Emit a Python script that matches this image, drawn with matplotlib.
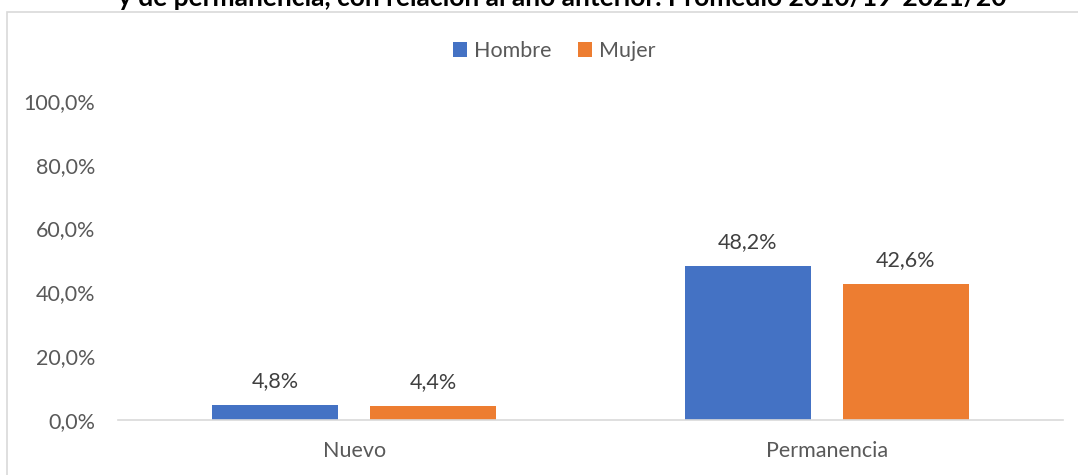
import numpy as np
from matplotlib import pyplot
from matplotlib.patches import Rectangle

pyplot.rcParams['font.family'] = ['Lato', 'DejaVu Sans']

# data
categories = ['Nuevo', 'Permanencia']
series     = ['Hombre', 'Mujer']
hombre     = [4.8, 48.2]
mujer      = [4.4, 42.6]
yticks     = [0, 20, 40, 60, 80, 100]
title      = 'y de permanencia, con relación al año anterior. Promedio 2010/19-2021/20'

colors     = ['#4472C4', '#ED7D31']
txtcolor   = '#595959'

fig = pyplot.figure(figsize=(10.78, 4.75), dpi=100)
ax  = fig.add_axes([0.1095, 0.1158, 0.8766, 0.6716])

x = np.arange(len(categories))
w = 0.267
off = 0.167
for vals, color, label, sgn in zip((hombre, mujer), colors, series, (-1, 1)):
	bars = ax.bar(x + sgn*off, vals, width=w, color=color, label=label)
	for b, v in zip(bars, vals):
		ax.text(b.get_x() + b.get_width()/2, v + 4.3, ('%.1f%%' % v).replace('.', ','),
				ha='center', va='bottom', fontsize=15.5, color='#404040')

ax.set_xlim(-0.5, 1.5)
ax.set_ylim(0, 100)
ax.set_yticks(yticks)
ax.set_yticklabels([('%.1f%%' % t).replace('.', ',') for t in yticks], fontsize=15.5, color=txtcolor)
ax.set_xticks(x)
ax.set_xticklabels(categories, fontsize=15.5, color=txtcolor)
ax.tick_params(axis='both', length=0)
ax.tick_params(axis='y', pad=16.5)
ax.tick_params(axis='x', pad=15)
for s in ('top', 'right', 'left'):
	ax.spines[s].set_visible(False)
ax.spines['bottom'].set_color('#D9D9D9')
ax.spines['bottom'].set_linewidth(1.2)

leg = fig.legend(loc='center', bbox_to_anchor=(0.514, 1 - 51/475), ncol=2, frameon=False,
				 fontsize=15.5, handlelength=0.65, handleheight=0.65, handletextpad=0.35,
				 columnspacing=1.2)
for t in leg.get_texts():
	t.set_color(txtcolor)

# chart frame (clipped by the image edge)
fig.patches.append(Rectangle((7/1078, -0.1), 1.2, 1 - 12/475 + 0.1, transform=fig.transFigure,
							 fill=False, edgecolor='#D9D9D9', linewidth=1.2))

fig.text(0.522, 1 - 6/475, title, ha='center', va='baseline', fontsize=19,
		 fontweight='bold', color='black')

fig.savefig('out.png', dpi=100)
